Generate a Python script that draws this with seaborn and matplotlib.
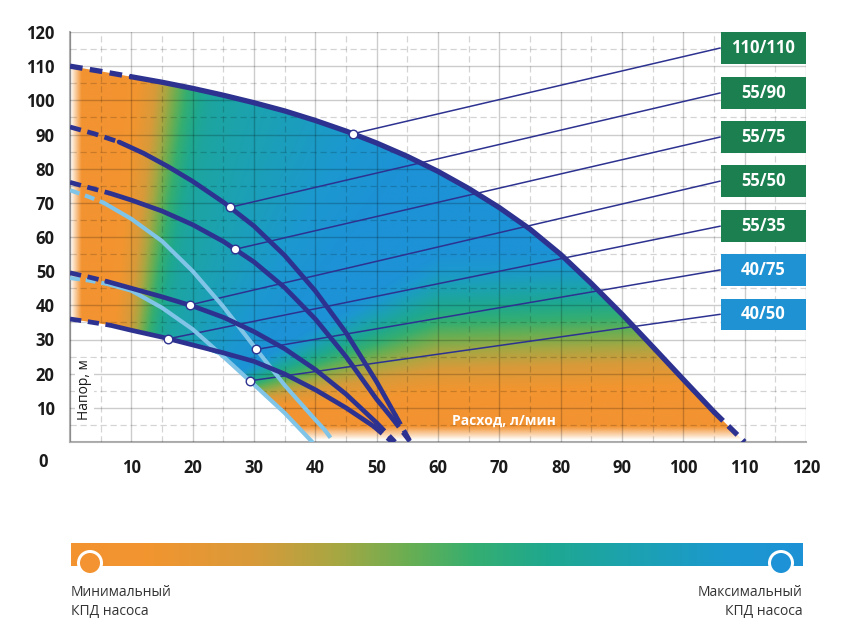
import numpy as np
import matplotlib
matplotlib.use("Agg")
import matplotlib.pyplot as plt
import seaborn as sns
from matplotlib.colors import LinearSegmentedColormap
from matplotlib.patches import Polygon, Rectangle, Circle

sns.set_style("white")
plt.rcParams['font.family'] = ['Open Sans', 'DejaVu Sans']

# Pump head curves: flow (l/min) vs head (m)
q_110_110 = [0, 5, 10, 15, 20, 25, 30, 35, 40, 45, 50, 55, 60, 65, 70, 75, 80, 85, 90, 95, 100, 105, 110]
h_110_110 = [110, 108.5, 106.9, 105.3, 103.5, 101.5, 99.3, 96.9, 94.1, 91.0, 87.5, 83.6, 79.2, 74.2,
             68.6, 62.3, 54.9, 46.4, 37.4, 27.9, 18.3, 8.8, 0]

q_55_90 = [0, 4, 8, 12, 16, 20, 25, 30, 35, 40, 45, 50, 53, 55.5]
h_55_90 = [92.2, 90.2, 87.8, 84.5, 80.6, 76.3, 70.2, 63.2, 54.6, 44.2, 32.0, 17.6, 8.0, 0]

q_55_75 = [0, 3, 6.5, 10, 15, 20, 25, 30, 35, 40, 45, 50, 52.5, 55.5]
h_55_75 = [76, 74.5, 72.8, 70.8, 67.6, 63.6, 58.7, 52.7, 45.2, 36.0, 25.0, 12.5, 7.0, 0]

q_55_50 = [0, 3, 6, 10, 15, 20, 25, 30, 35, 40, 45, 50, 53]
h_55_50 = [49.5, 48.3, 47, 45, 42.5, 39.8, 36.5, 32.3, 27.3, 21.2, 14.0, 5.6, 0]

q_55_35 = [0, 3, 6.5, 10, 15, 20, 25, 30, 35, 40, 45, 49.5, 52.5]
h_55_35 = [36, 35.2, 34.2, 32.7, 30.7, 28.4, 26.1, 23.6, 19.9, 15.3, 10, 4.6, 0]

q_40_75 = [0, 3, 5.5, 10, 15, 20, 25, 30, 35, 40, 41.5, 43]
h_40_75 = [73.7, 71.8, 70, 65.3, 58.8, 50, 39.6, 28, 16.6, 6.5, 3.6, 0]

q_40_50 = [0, 3, 6, 10, 15, 20, 25, 30, 35, 39.5]
h_40_50 = [48, 47.3, 46.3, 44.3, 39.3, 33, 25, 16.8, 8.5, 0]

# Model labels and their working points
models = ['110/110', '55/90', '55/75', '55/50', '55/35', '40/75', '40/50']
point_q = [46.1, 26.1, 26.9, 19.5, 16.0, 30.4, 29.3]
point_h = [90.2, 68.7, 56.4, 40.1, 30.2, 27.1, 17.9]
label_h = [115.35, 102.2, 89.3, 76.4, 63.2, 50.4, 37.4]

navy = '#2d3290'
light = '#80c4e8'
green_box = '#1b7f4f'
blue_box = '#1e92d2'
label_colors = [green_box] * 5 + [blue_box] * 2

eff_cmap = LinearSegmentedColormap.from_list('eff', [
    (0.00, '#f39331'), (0.10, '#f2952f'), (0.25, '#d89a3a'), (0.36, '#a8a742'),
    (0.46, '#6aae52'), (0.55, '#35ae70'), (0.65, '#1fa88f'), (0.78, '#1ba1b3'),
    (0.90, '#1c98cf'), (1.00, '#1d92d6')])


def smooth(x):
    x = np.clip(x, 0, 1)
    return x * x * (3 - 2 * x)


fig = plt.figure(figsize=(8.5, 6.4), dpi=100)
ax = fig.add_axes([70 / 850, 198 / 640, 736 / 850, 410 / 640])
ax.set_xlim(0, 120)
ax.set_ylim(0, 120)

# efficiency colour field, clipped to the working area
Qg, Hg = np.meshgrid(np.linspace(0, 120, 721), np.linspace(0, 120, 481))
q0 = 3 + 0.03 * Hg
fast = smooth((Qg - q0) / (10 + 0.08 * Hg))
slow = np.clip((Qg - q0 - 7) / (10 + 0.4 * Hg), 0, 1)
t_left = 0.64 * fast + 0.36 * slow
h_zero = 7 + 0.05 * Qg
span = np.clip(Qg - 15, 8, 45)
t_low = np.clip((Hg - h_zero) / span, 0, 1)
t = np.minimum(t_left, t_low)
rgba = eff_cmap(t)
rgba[..., 3] = np.clip(Qg / 1.8, 0, 1) * np.clip((Hg - 0.5) / 4, 0, 1)
im = ax.imshow(rgba, extent=(0, 120, 0, 120), origin='lower', aspect='auto',
               interpolation='bilinear', zorder=1)

top = list(zip(q_110_110, h_110_110))
low_b = [(q, h) for q, h in zip(q_40_50, h_40_50) if q >= 25][::-1]
low_a = [(q, h) for q, h in zip(q_55_35, h_55_35) if q <= 20][::-1]
area = Polygon(top + [(110, 0), (39.5, 0)] + low_b + low_a, closed=True, transform=ax.transData)
im.set_clip_path(area)

# grid
ax.set_xticks(range(0, 121, 10))
ax.set_yticks(range(0, 121, 10))
ax.set_xticks(range(5, 120, 10), minor=True)
ax.set_yticks(range(5, 120, 10), minor=True)
ax.set_xticklabels([''] + [str(v) for v in range(10, 121, 10)])
ax.set_yticklabels([''] + [str(v) for v in range(10, 121, 10)])
ax.set_axisbelow(False)
ax.grid(which='major', color='black', alpha=0.2, lw=1.0)
ax.grid(which='minor', color='black', alpha=0.17, lw=0.9, linestyle=(0, (5, 3)))
ax.tick_params(which='both', length=0)
ax.tick_params(axis='y', pad=11, labelsize=12, labelcolor='#1a1a1a')
ax.tick_params(axis='x', pad=12, labelsize=12, labelcolor='#1a1a1a')
for lab in ax.get_xticklabels() + ax.get_yticklabels():
    lab.set_fontweight('bold')
for s in ['top', 'right']:
    ax.spines[s].set_visible(False)
for s in ['left', 'bottom']:
    ax.spines[s].set_color('#b0b0b0')
    ax.spines[s].set_linewidth(1.5)
ax.annotate('0', xy=(0, 0), xytext=(-27, -20), textcoords='offset pixels', ha='center',
            va='center', fontsize=12, fontweight='bold', color='#1a1a1a', annotation_clip=False)

# leader lines to model labels
for mq, mh, lh in zip(point_q, point_h, label_h):
    ax.plot([mq, 106.1], [mh, lh], color=navy, lw=1.1, zorder=3, solid_capstyle='butt')

# curves: dashed at both ends, solid in the middle
curves = [
    (q_40_75, h_40_75, light, 3.0, 4, 5.5, 41.5),
    (q_40_50, h_40_50, light, 3.0, 4, 6, 39.5),
    (q_55_35, h_55_35, navy, 3.4, 5, 6.5, 49.5),
    (q_55_50, h_55_50, navy, 3.4, 5, 6, 50),
    (q_55_75, h_55_75, navy, 3.4, 5, 6.5, 52.5),
    (q_55_90, h_55_90, navy, 3.4, 5, 8, 53),
    (q_110_110, h_110_110, navy, 3.8, 5, 10, 105),
]
for q, h, col, lw, z, qa, qb in curves:
    q = np.array(q)
    h = np.array(h)
    parts = [(q <= qa, (0, (2.4, 1.4))), ((q >= qa) & (q <= qb), '-'), (q >= qb, (0, (2.4, 1.4)))]
    for mask, ls in parts:
        if mask.sum() < 2:
            continue
        sns.lineplot(x=q[mask], y=h[mask], ax=ax, color=col, lw=lw, linestyle=ls,
                     sort=False, zorder=z, dash_capstyle='butt', solid_capstyle='round',
                     solid_joinstyle='round')

sns.scatterplot(x=point_q, y=point_h, ax=ax, s=38, color='white', edgecolor=navy,
                linewidth=1.0, zorder=7)

for name, lh, col in zip(models, label_h, label_colors):
    ax.add_patch(Rectangle((106.1, lh - 4.6), 13.9, 9.2, facecolor=col, edgecolor='none',
                           zorder=8, clip_on=False))
    ax.text(113.05, lh, name, ha='center', va='center', color='white', fontsize=12,
            fontweight='bold', zorder=9)

ax.text(2.4, 15.2, 'Напор, м', rotation=90, ha='center', va='center', fontsize=10,
        color='#1a1a1a', zorder=6,
        bbox=dict(facecolor='white', edgecolor='none', pad=1.5))
ax.text(70.8, 6.2, 'Расход, л/мин', ha='center', va='center', fontsize=10,
        color='white', fontweight='bold', zorder=6)

# efficiency legend bar (pixel coordinates)
lg = fig.add_axes([0, 0, 1, 1])
lg.axis('off')
lg.imshow(np.linspace(0, 1, 512)[None, :], cmap=eff_cmap, extent=(71, 803, 566, 543),
          aspect='auto', zorder=1)
lg.set_xlim(0, 850)
lg.set_ylim(640, 0)
for cx, col in [(90, '#f39331'), (781, '#1d92d6')]:
    lg.add_patch(Circle((cx, 563), 13, facecolor='white', edgecolor='none', zorder=2))
    lg.add_patch(Circle((cx, 563), 10, facecolor=col, edgecolor='none', zorder=3))
lg.text(71, 592, 'Минимальный', ha='left', va='center', fontsize=10, color='#333333')
lg.text(71, 611, 'КПД насоса', ha='left', va='center', fontsize=10, color='#333333')
lg.text(803, 592, 'Максимальный', ha='right', va='center', fontsize=10, color='#333333')
lg.text(803, 611, 'КПД насоса', ha='right', va='center', fontsize=10, color='#333333')

fig.savefig('out.png', dpi=100)
